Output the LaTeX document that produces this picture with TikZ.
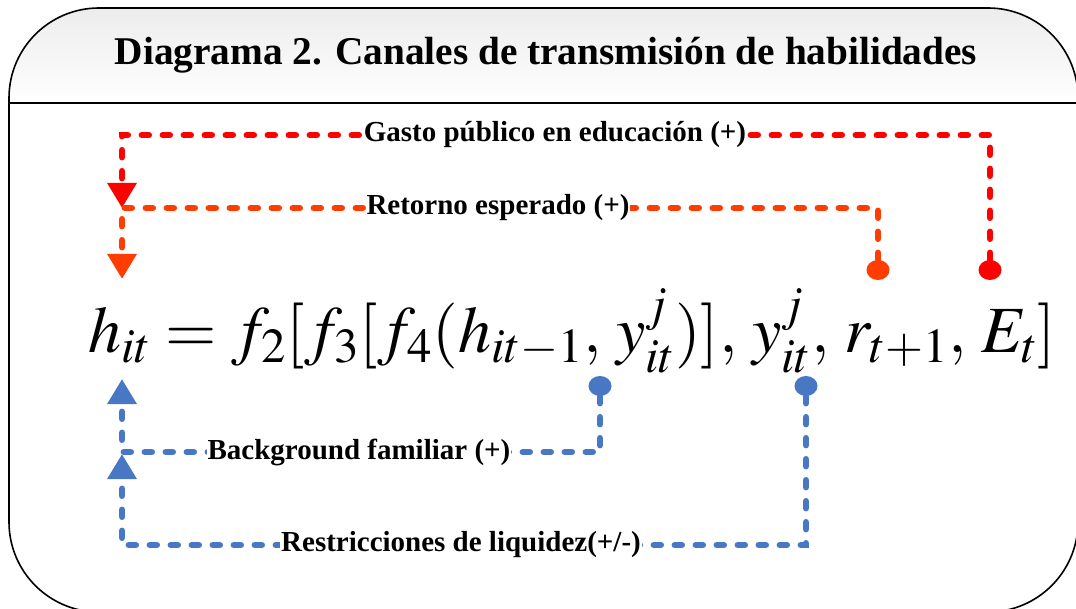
\documentclass[tikz,border=0pt]{standalone}
\usepackage{mathptmx}
\usepackage{fontspec}
\setmainfont{Liberation Serif}
\usetikzlibrary{arrows.meta,positioning,shapes.geometric}

\definecolor{gastored}{HTML}{FF0000}
\definecolor{retorange}{HTML}{FF3D00}
\definecolor{famblue}{HTML}{4878C4}

\tikzset{
  lab/.style={fill=white,inner sep=1pt,font=\bfseries\fontsize{29}{32}\selectfont},
  chan/.style={line width=6.5pt,line cap=round,dash pattern=on 7pt off 14pt},
  tip/.style={-{Triangle[width=28pt,length=25pt]}},
  knob/.style={ellipse,fill,inner sep=0pt,minimum width=23pt,minimum height=20pt},
}

\begin{document}
\begin{tikzpicture}[x=1pt,y=-1pt]
\useasboundingbox (0,0) rectangle (1076,609);

%frame and title band
\begin{scope}
\clip[rounded corners=90pt] (9,8) rectangle (1078,612);
\shade[top color=black!8,bottom color=white] (0,0) rectangle (1080,103);
\end{scope}
\draw[line width=1.6pt,rounded corners=90pt] (9,8) rectangle (1078,612);
\draw[line width=1.6pt] (9,103) -- (1078,103);
\node[font=\bfseries\fontsize{39.3}{44}\selectfont] (title) at (546,55) {Diagrama 2. Canales de transmisión de habilidades};

%equation
\node[anchor=base west,inner sep=0pt,font=\fontsize{66}{72}\selectfont] (eq) at (88,353)
  {$h_{it}=f_2[f_3[f_4(h_{it-1},\,y_{it}^{j})],\,y_{it}^{j},\,r_{t+1},\,E_t]$};

%end points
\node[knob,gastored] (gdot) at (990,270) {};
\node[knob,retorange] (rdot) at (878,270) {};
\node[knob,famblue] (bdot) at (600,386) {};
\node[knob,famblue] (ldot) at (806,386) {};
\coordinate (gbend) at (122,135);
\coordinate (gtip) at (122,208);
\coordinate (rbend) at (122,208);
\coordinate (rtip) at (122,279);
\coordinate (bbend) at (122,452);
\coordinate (btip) at (122,379);
\coordinate (lbend) at (122,545);
\coordinate (ltip) at (122,454);

%channels
\draw[chan,gastored,tip] (gdot) |- (gbend) -- (gtip);
\draw[chan,retorange,tip] (rdot) |- (rbend) -- (rtip);
\draw[chan,famblue,tip] (bdot) |- (bbend) -- (btip);
\draw[chan,famblue,tip] (ldot) |- (lbend) -- (ltip);

%labels
\node[lab] (glab) at (555,135) {Gasto público en educación (+)};
\node[lab] (rlab) at (498,208) {Retorno esperado (+)};
\node[lab] (blab) at (359,452) {Background familiar (+)};
\node[lab] (llab) at (461,545) {Restricciones de liquidez(+/-)};

\end{tikzpicture}
\end{document}
